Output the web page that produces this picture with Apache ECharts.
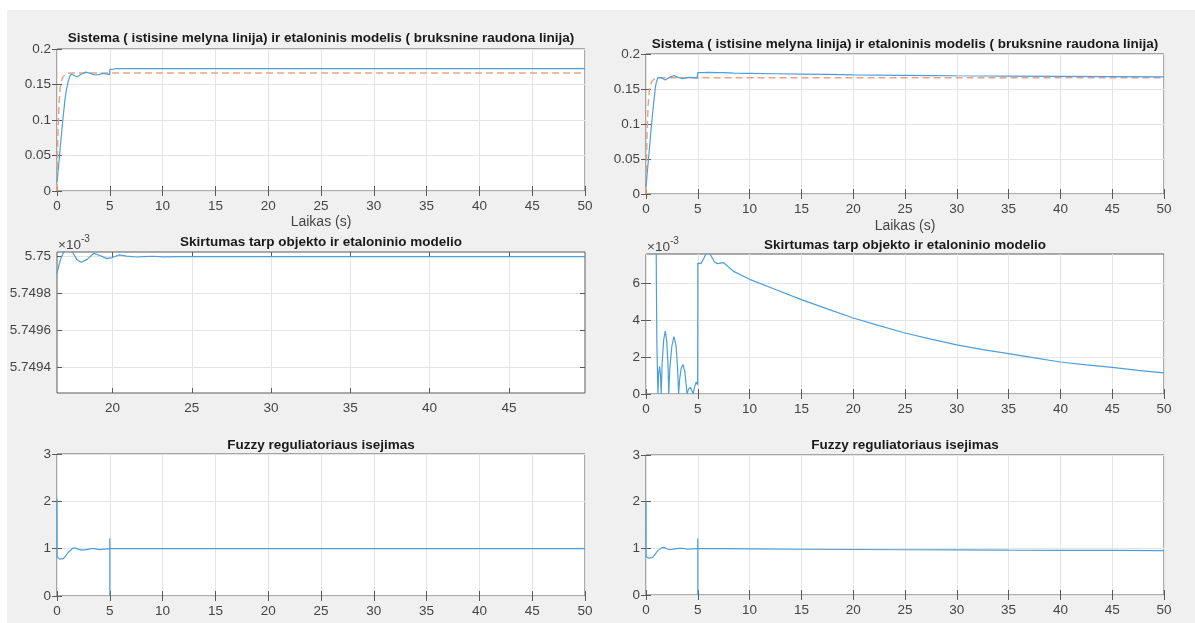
<!DOCTYPE html>
<html>
<head>
<meta charset="utf-8">
<script src="https://cdn.jsdelivr.net/npm/echarts@6/dist/echarts.min.js"></script>
<style>
html,body{margin:0;padding:0;background:#ffffff;}
#bg{position:absolute;left:7px;top:10px;right:0;bottom:0;background:#f0f0f0;}
#chart{position:absolute;left:0;top:0;width:1195px;height:623px;}
</style>
</head>
<body>
<div id="bg"></div>
<div id="chart"></div>
<script>
// ---------------- DATA ----------------
// Top-left: system (blue) and reference model (red dashed)
const tSysL   = [0, 0.15, 0.35, 0.55, 0.75, 0.9, 1.04, 1.2, 1.36, 1.6, 1.9, 2.3, 2.7, 3.1, 3.57, 4.0, 4.3, 4.7, 4.99, 5.0, 5.4, 5.6, 50];
const sysL    = [0.012, 0.035, 0.068, 0.1, 0.128, 0.143, 0.153, 0.161, 0.1645, 0.163, 0.161, 0.1645, 0.1675, 0.166, 0.1634, 0.164, 0.1655, 0.165, 0.164, 0.1712, 0.1715, 0.1725, 0.1725];
const tRef    = [0, 0.05, 0.1, 0.2, 0.3, 0.4, 0.5, 0.7, 0.9, 1.2, 50];
const refVal  = [0, 0.05, 0.085, 0.125, 0.145, 0.154, 0.159, 0.163, 0.1652, 0.1662, 0.1662];

// Top-right: system (blue)
const tSysR   = [0, 0.3, 0.6, 0.9, 1.0, 1.15, 1.31, 1.47, 1.86, 2.2, 2.7, 3.15, 3.57, 3.96, 4.28, 4.54, 4.93, 4.99, 5.0, 5.5, 6.0, 6.9, 7.5, 8.45, 10, 12.5, 15, 17.5, 20, 22.5, 25, 27.5, 30, 35, 40, 45, 50];
const sysR    = [0.01, 0.06, 0.11, 0.152, 0.16, 0.1662, 0.1677, 0.1662, 0.1628, 0.1662, 0.1693, 0.1662, 0.1646, 0.1662, 0.1666, 0.1662, 0.1655, 0.166, 0.1733, 0.1735, 0.1738, 0.1733, 0.1734, 0.1728, 0.1724, 0.1718, 0.1713, 0.1708, 0.1703, 0.1699, 0.1695, 0.1692, 0.1689, 0.1684, 0.1679, 0.1676, 0.1673];

// Middle-left: difference (x 1e-3)
const tDiffL  = [16.5, 16.7, 16.92, 17.2, 17.47, 17.75, 18.03, 18.4, 18.83, 19.25, 19.65, 20.0, 20.4, 20.9, 21.5, 22.0, 22.5, 23.2, 24, 30, 40, 49.8];
const diffL   = [5.74991, 5.74998, 5.750025, 5.75006, 5.750025, 5.749985, 5.74997, 5.749985, 5.750018, 5.750005, 5.749989, 5.749995, 5.750009, 5.750003, 5.749998, 5.75, 5.750002, 5.749999, 5.75, 5.75, 5.75, 5.75];

// Middle-right: difference (x 1e-3)
const tDiffR  = [0, 0.3, 0.97, 1.0, 1.05, 1.15, 1.22, 1.31, 1.4, 1.47, 1.55, 1.7, 1.86, 2.0, 2.12, 2.2, 2.3, 2.5, 2.7, 2.9, 3.05, 3.15, 3.25, 3.4, 3.57, 3.75, 3.88, 3.96, 4.1, 4.28, 4.45, 4.54, 4.7, 4.85, 4.93, 4.99, 5.0, 5.3, 5.6, 5.95, 6.3, 6.6, 6.9, 7.5, 8.45, 10, 12.5, 15, 17.5, 20, 22.5, 25, 27.5, 30, 32.5, 35, 37.5, 40, 42.5, 45, 47.5, 50];
const diffR   = [10, 40, 9, 6.2, 2.7, 0, 1.1, 1.5, 1.0, 0, 1.6, 2.9, 3.4, 2.9, 1.6, 0, 1.4, 2.6, 3.1, 2.6, 1.4, 0, 0.8, 1.4, 1.6, 1.2, 0.5, 0, 0.25, 0.36, 0.15, 0, 0.4, 0.65, 0.68, 0.5, 7.08, 7.05, 7.35, 7.75, 7.45, 7.15, 7.05, 7.1, 6.63, 6.2, 5.65, 5.1, 4.6, 4.11, 3.7, 3.3, 2.97, 2.66, 2.4, 2.18, 1.95, 1.73, 1.58, 1.44, 1.28, 1.14];

// Bottom: fuzzy controller output
const tFuzL   = [0, 0.01, 0.1, 0.25, 0.42, 0.6, 0.8, 1.1, 1.5, 1.7, 2.0, 2.3, 2.8, 3.2, 3.6, 4.0, 4.5, 4.99, 5.0, 5.0, 5.0, 50];
const fuzL    = [2.05, 0.83, 0.8, 0.78, 0.77, 0.79, 0.84, 0.93, 1.01, 1.02, 0.99, 0.97, 0.98, 1.0, 1.0, 0.98, 0.99, 1.0, 1.22, 0, 1.0, 1.0];
const tFuzR   = [0, 0.01, 0.1, 0.25, 0.42, 0.6, 0.8, 1.1, 1.5, 1.7, 2.0, 2.3, 2.8, 3.2, 3.6, 4.0, 4.5, 4.99, 5.0, 5.0, 5.0, 10, 15, 20, 25, 30, 35, 40, 45, 50];
const fuzR    = [2.0, 0.82, 0.8, 0.79, 0.78, 0.8, 0.85, 0.94, 1.01, 1.02, 0.99, 0.97, 0.99, 1.0, 1.0, 0.98, 0.99, 1.0, 1.21, 0, 1.0, 0.99, 0.98, 0.975, 0.97, 0.965, 0.96, 0.958, 0.955, 0.953];

// Tick values
const xTicksFull  = [0, 5, 10, 15, 20, 25, 30, 35, 40, 45, 50];
const xTicksDiffL = [20, 25, 30, 35, 40, 45];
const yTicksSys   = [0, 0.05, 0.1, 0.15, 0.2];
const yTicksDiffL = [5.7494, 5.7496, 5.7498, 5.75];
const yTicksDiffR = [0, 2, 4, 6];
const yTicksFuz   = [0, 1, 2, 3];

// Texts
const titleSys  = 'Sistema ( istisine melyna linija) ir etaloninis modelis ( bruksnine raudona linija)';
const titleDiff = 'Skirtumas tarp objekto ir etaloninio modelio';
const titleFuz  = 'Fuzzy reguliatoriaus isejimas';
const xName     = 'Laikas (s)';

// ---------------- CHART ----------------
const FONT = "'Liberation Sans', Arial, Helvetica, sans-serif";
const AX = '#5a5a5a', TXT = '#444444', GRIDC = '#e4e4e4';
const BLUE = '#4b9fdc', RED = '#f2a27e';

const pairs = (t, v) => t.map((x, i) => [x, v[i]]);

const panels = [
  {rect:{left:57, top:49, width:528, height:142}, x:[0,50,xTicksFull], y:[0,0.2,yTicksSys]},
  {rect:{left:57, top:252, width:528, height:141}, x:[16.5,49.8,xTicksDiffL], y:[5.749263,5.750025,yTicksDiffL]},
  {rect:{left:57, top:454, width:528, height:142}, x:[0,50,xTicksFull], y:[0,3,yTicksFuz]},
  {rect:{left:646, top:54, width:518, height:140}, x:[0,50,xTicksFull], y:[0,0.2,yTicksSys]},
  {rect:{left:646, top:254, width:518, height:140}, x:[0,50,xTicksFull], y:[0,7.57,yTicksDiffR]},
  {rect:{left:646, top:455, width:518, height:140}, x:[0,50,xTicksFull], y:[0,3,yTicksFuz]}
];

const grids = [], xAxes = [], yAxes = [];
panels.forEach((p, i) => {
  grids.push(Object.assign({show:true, backgroundColor:'#ffffff', borderColor:AX, borderWidth:1, containLabel:false}, p.rect));
  const tick = (vals) => ({show:true, inside:true, length:5, lineStyle:{color:AX, width:1}, customValues: vals});
  const lab = (vals, m) => ({show:true, color:TXT, fontSize:13.5, fontFamily:FONT, margin:m, customValues: vals, hideOverlap:false});
  xAxes.push({type:'value', gridIndex:i, position:'bottom', min:p.x[0], max:p.x[1],
    axisLine:{show:false}, axisTick:tick(p.x[2]), axisLabel:lab(p.x[2], 8),
    splitLine:{show:true, lineStyle:{color:GRIDC, width:1}}});
  xAxes.push({type:'value', gridIndex:i, position:'top', min:p.x[0], max:p.x[1],
    axisLine:{show:false}, axisTick:tick(p.x[2]), axisLabel:{show:false}, splitLine:{show:false}});
  yAxes.push({type:'value', gridIndex:i, position:'left', min:p.y[0], max:p.y[1],
    axisLine:{show:false}, axisTick:tick(p.y[2]), axisLabel:lab(p.y[2], 6),
    splitLine:{show:true, lineStyle:{color:GRIDC, width:1}}});
  yAxes.push({type:'value', gridIndex:i, position:'right', min:p.y[0], max:p.y[1],
    axisLine:{show:false}, axisTick:tick(p.y[2]), axisLabel:{show:false}, splitLine:{show:false}});
});

const mk = (gi, data, color, dashed) => ({
  type:'line', xAxisIndex:gi*2, yAxisIndex:gi*2, data, showSymbol:false, symbol:'none',
  clip:true, animation:false, silent:true,
  lineStyle:{color, width: dashed ? 1.5 : 1.2, type: dashed ? [7,4] : 'solid'}
});

const series = [
  mk(0, pairs(tRef, refVal), RED, true),
  mk(0, pairs(tSysL, sysL), BLUE, false),
  mk(1, pairs(tDiffL, diffL), BLUE, false),
  mk(2, pairs(tFuzL, fuzL), BLUE, false),
  mk(3, pairs(tRef, refVal), RED, true),
  mk(3, pairs(tSysR, sysR), BLUE, false),
  mk(4, pairs(tDiffR, diffR), BLUE, false),
  mk(5, pairs(tFuzR, fuzR), BLUE, false)
];

const txt = (x, y, text, size, bold, align, color) => ({
  type:'text', x, y, silent:true,
  style:{text, fontSize:size, fontWeight: bold ? 'bold' : 'normal', fontFamily:FONT,
    fill: color || TXT, align: align || 'center', verticalAlign:'middle'}
});

const graphics = [
  txt(321, 38, titleSys, 13.5, true, 'center', '#1a1a1a'),
  txt(905, 44, titleSys, 13.5, true, 'center', '#1a1a1a'),
  txt(321, 242, titleDiff, 13.5, true, 'center', '#1a1a1a'),
  txt(905, 245, titleDiff, 13.5, true, 'center', '#1a1a1a'),
  txt(321, 445, titleFuz, 13.5, true, 'center', '#1a1a1a'),
  txt(905, 445, titleFuz, 13.5, true, 'center', '#1a1a1a'),
  txt(321, 222, xName, 14, false, 'center'),
  txt(905, 226, xName, 14, false, 'center'),
  txt(58, 245, '\u00d710', 13.5, false, 'left'),
  txt(81, 239, '-3', 10, false, 'left'),
  txt(647, 247, '\u00d710', 13.5, false, 'left'),
  txt(670, 241, '-3', 10, false, 'left')
];

const chart = echarts.init(document.getElementById('chart'), null, {renderer:'canvas', width:1195, height:623});
chart.setOption({
  backgroundColor:'transparent',
  animation:false,
  grid: grids,
  xAxis: xAxes,
  yAxis: yAxes,
  series,
  graphic: graphics
});
</script>
</body>
</html>
